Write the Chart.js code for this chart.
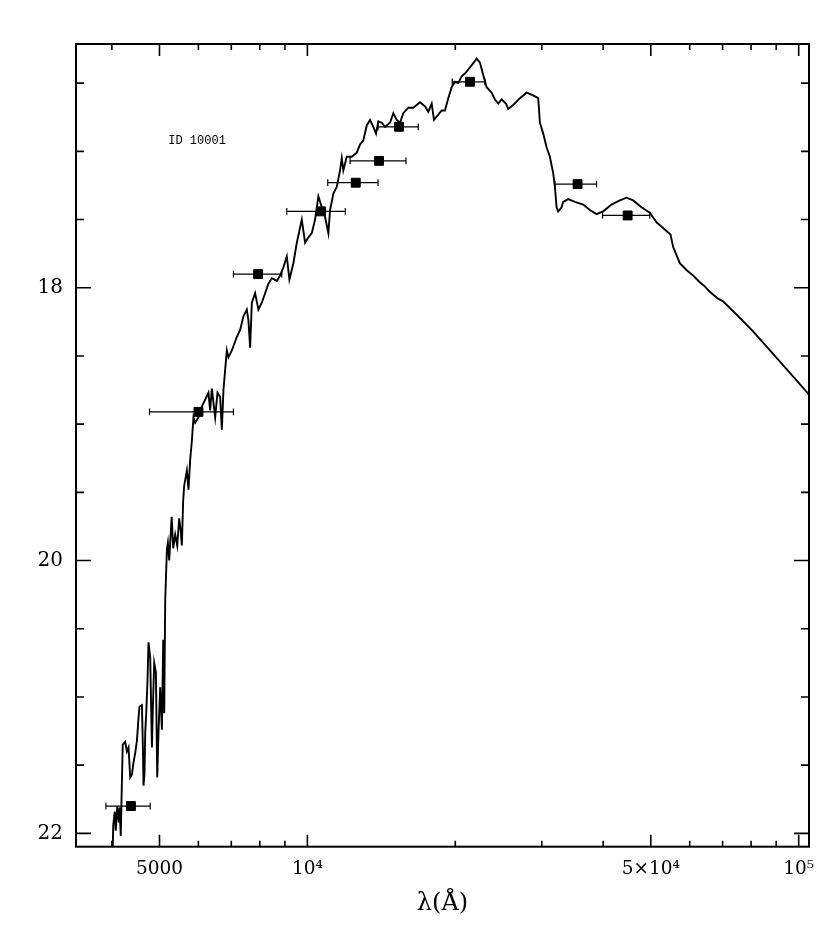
<!DOCTYPE html>
<html>
<head>
<meta charset="utf-8">
<script src="https://cdn.jsdelivr.net/npm/chart.js@4.4.1/dist/chart.umd.min.js"></script>
<style>
  html, body { margin: 0; padding: 0; background: #fff; }
  #wrap { width: 840px; height: 940px; }
</style>
</head>
<body>
<div id="wrap"><canvas id="sed" width="840" height="940"></canvas></div>
<script>
// model spectrum: wavelength (Angstrom) and magnitude
var waveAA = [
  4016, 4026, 4054, 4073, 4102, 4131, 4150, 4170, 4189, 4209,
  4258, 4292, 4325, 4359, 4394, 4427, 4463, 4498, 4519, 4532,
  4553, 4605, 4626, 4639, 4661, 4677, 4699, 4727, 4749, 4787,
  4826, 4848, 4878, 4917, 4947, 4977, 5017, 5057, 5088, 5112,
  5136, 5177, 5201, 5233, 5294, 5332, 5382, 5433, 5484, 5522,
  5553, 5587, 5614, 5685, 5728, 5774, 5820, 5863, 5910, 6002,
  6099, 6194, 6290, 6340, 6391, 6491, 6561, 6644, 6697, 6748,
  6802, 6856, 6908, 7019, 7185, 7297, 7410, 7529, 7586, 7647,
  7708, 7828, 7950, 8077, 8203, 8331, 8464, 8665, 8800, 8937,
  9080, 9192, 9365, 9516, 9741, 9893, 10047, 10208, 10367, 10529,
  10698, 10864, 11033, 11122, 11295, 11476, 11655, 11748, 11836, 12026,
  12311, 12603, 12799, 12998, 13207, 13413, 13622, 13795, 13944, 14168,
  14389, 14730, 14959, 15199, 15436, 15676, 16048, 16428, 16952, 17353,
  17623, 17906, 18100, 18468, 18765, 19057, 19354, 19664, 19971, 20282,
  20607, 20928, 21254, 21595, 22107, 22451, 22801, 23167, 23716, 24085,
  24460, 24853, 25358, 25633, 26240, 27076, 27939, 28816, 29499, 29735,
  30198, 30682, 31160, 31645, 31898, 32153, 32395, 32915, 33163, 33948,
  35030, 36419, 37579, 38777, 39994, 41599, 43248, 44626, 46027, 47874,
  49771, 51358, 52895, 54838, 55509, 56400, 57279, 59104, 60960, 62903,
  64393, 65918, 68531, 70155, 75861, 80736, 85965, 91488, 97367, 105289
];
var magModel = [
  22.11, 21.94, 21.84, 21.98, 21.80, 21.92, 21.81, 22.02, 21.68, 21.35,
  21.33, 21.40, 21.37, 21.59, 21.57, 21.48, 21.41, 21.32, 21.22, 21.15,
  21.07, 21.06, 21.37, 21.65, 21.56, 21.26, 21.12, 20.88, 20.60, 20.71,
  21.37, 21.07, 20.75, 20.82, 21.59, 21.26, 20.93, 21.24, 20.58, 21.12,
  20.29, 19.92, 19.87, 20.00, 19.68, 19.91, 19.81, 19.89, 19.69, 19.78,
  19.89, 19.56, 19.45, 19.34, 19.48, 19.26, 19.12, 18.95, 18.99, 18.95,
  18.87, 18.82, 18.77, 18.90, 18.74, 18.95, 18.77, 18.80, 19.04, 18.75,
  18.60, 18.46, 18.51, 18.46, 18.36, 18.31, 18.21, 18.16, 18.24, 18.44,
  18.11, 18.04, 18.16, 18.11, 18.04, 17.97, 17.93, 17.95, 17.91, 17.85,
  17.77, 17.94, 17.82, 17.67, 17.50, 17.67, 17.63, 17.60, 17.50, 17.33,
  17.41, 17.48, 17.60, 17.43, 17.31, 17.26, 17.14, 17.05, 17.14, 17.04,
  17.04, 17.01, 16.95, 16.92, 16.81, 16.77, 16.82, 16.87, 16.78, 16.79,
  16.82, 16.79, 16.72, 16.77, 16.79, 16.72, 16.68, 16.68, 16.64, 16.67,
  16.71, 16.65, 16.77, 16.73, 16.70, 16.70, 16.61, 16.53, 16.49, 16.50,
  16.45, 16.43, 16.40, 16.37, 16.32, 16.35, 16.44, 16.53, 16.57, 16.62,
  16.65, 16.62, 16.65, 16.69, 16.66, 16.61, 16.57, 16.59, 16.61, 16.79,
  16.87, 16.97, 17.04, 17.16, 17.26, 17.41, 17.44, 17.41, 17.37, 17.35,
  17.37, 17.39, 17.43, 17.46, 17.44, 17.39, 17.36, 17.34, 17.36, 17.41,
  17.45, 17.52, 17.56, 17.61, 17.70, 17.76, 17.82, 17.87, 17.91, 17.96,
  17.99, 18.03, 18.08, 18.10, 18.22, 18.32, 18.43, 18.54, 18.65, 18.79
];

// photometry: filter centre, magnitude, filter extent
var photWave = [4374, 6002, 7938, 10663, 12544, 13990, 15364, 21424, 35476, 44856];
var photMag  = [21.80, 18.91, 17.90, 17.44, 17.23, 17.07, 16.82, 16.49, 17.24, 17.47];
var photLo   = [3890, 4772, 7071, 9080, 11002, 12214, 13925, 19720, 31898, 39882];
var photHi   = [4787, 7071, 8870, 11942, 13925, 15876, 16817, 22983, 38777, 49771];

// axes
var xMajor = [5000, 10000, 50000, 100000];
var xMajorLabels = ['5000', '10\u2074', '5\u00d710\u2074', '10\u2075'];
var xMinor = [4000, 6000, 7000, 8000, 9000, 20000, 30000, 40000, 60000, 70000, 80000, 90000];
var yMajor = [18, 20, 22];
var yMinor = [16.5, 17, 17.5, 18.5, 19, 19.5, 20.5, 21, 21.5];

var idLabel = 'ID 10001';
var idWave = 5210, idMag = 16.92;

var framePlugin = {
  id: 'frameTicks',
  beforeDatasetsDraw: function(chart) {
    // horizontal error bars of the photometry
    var ctx = chart.ctx, x = chart.scales.x, y = chart.scales.y;
    ctx.save();
    ctx.strokeStyle = '#000';
    ctx.lineWidth = 1.2;
    ctx.beginPath();
    for (var i = 0; i < photWave.length; i++) {
      var py = y.getPixelForValue(photMag[i]);
      var x0 = x.getPixelForValue(photLo[i]);
      var x1 = x.getPixelForValue(photHi[i]);
      ctx.moveTo(x0, py); ctx.lineTo(x1, py);
      ctx.moveTo(x0, py - 3.4); ctx.lineTo(x0, py + 3.4);
      ctx.moveTo(x1, py - 3.4); ctx.lineTo(x1, py + 3.4);
    }
    ctx.stroke();
    ctx.restore();
  },
  afterDatasetsDraw: function(chart) {
    var ctx = chart.ctx, a = chart.chartArea, x = chart.scales.x, y = chart.scales.y;
    ctx.save();
    ctx.strokeStyle = '#000';
    ctx.lineWidth = 1.6;
    ctx.beginPath();
    function xt(v, len) {
      var px = x.getPixelForValue(v);
      ctx.moveTo(px, a.bottom); ctx.lineTo(px, a.bottom - len);
      ctx.moveTo(px, a.top); ctx.lineTo(px, a.top + len);
    }
    function yt(v, len) {
      var py = y.getPixelForValue(v);
      ctx.moveTo(a.left, py); ctx.lineTo(a.left + len, py);
      ctx.moveTo(a.right, py); ctx.lineTo(a.right - len, py);
    }
    xMajor.forEach(function(v) { xt(v, 12); });
    xMinor.forEach(function(v) { xt(v, 6); });
    yMajor.forEach(function(v) { yt(v, 15); });
    yMinor.forEach(function(v) { yt(v, 8); });
    ctx.stroke();
    ctx.lineWidth = 2;
    ctx.strokeRect(a.left, a.top, a.right - a.left, a.bottom - a.top);

    ctx.fillStyle = '#000';
    ctx.font = '12px "Liberation Mono", "DejaVu Sans Mono", monospace';
    ctx.textBaseline = 'middle';
    ctx.textAlign = 'left';
    ctx.fillText(idLabel, x.getPixelForValue(idWave), y.getPixelForValue(idMag));
    ctx.restore();
  }
};

var ctx = document.getElementById('sed').getContext('2d');
var chart = new Chart(ctx, {
  type: 'line',
  data: {
    datasets: [{
      label: 'model',
      data: waveAA.map(function(w, i) { return {x: w, y: magModel[i]}; }),
      borderColor: '#000',
      borderWidth: 1.9,
      pointRadius: 0,
      tension: 0,
      fill: false
    }, {
      type: 'scatter',
      label: 'photometry',
      data: photWave.map(function(w, i) { return {x: w, y: photMag[i]}; }),
      pointStyle: 'rect',
      pointRadius: 6.3,
      backgroundColor: '#000',
      borderColor: '#000',
      borderWidth: 1
    }]
  },
  options: {
    responsive: false,
    animation: false,
    layout: { padding: { top: 44, right: 31, bottom: 0, left: 0 } },
    plugins: {
      legend: { display: false },
      tooltip: { enabled: false }
    },
    scales: {
      x: {
        type: 'logarithmic',
        min: 3381,
        max: 104950,
        grid: { display: false, drawTicks: false },
        border: { display: false },
        afterBuildTicks: function(s) { s.ticks = xMajor.map(function(v) { return {value: v}; }); },
        afterFit: function(s) { s.height = 93.3; },
        ticks: {
          autoSkip: false,
          maxRotation: 0,
          padding: 11,
          color: '#000',
          font: { family: '"DejaVu Serif", serif', size: 18.5 },
          callback: function(v, i) { return xMajorLabels[i]; }
        },
        title: {
          display: true,
          text: '\u03bb(\u00c5)',
          color: '#000',
          font: { family: '"DejaVu Serif", serif', size: 24 },
          padding: { top: 0, bottom: 22 }
        }
      },
      y: {
        type: 'linear',
        reverse: true,
        min: 16.213,
        max: 22.098,
        grid: { display: false, drawTicks: false },
        border: { display: false },
        afterBuildTicks: function(s) { s.ticks = yMajor.map(function(v) { return {value: v}; }); },
        afterFit: function(s) { s.width = 76; },
        ticks: {
          padding: 13,
          color: '#000',
          font: { family: '"DejaVu Serif", serif', size: 20 },
          callback: function(v) { return String(v); }
        }
      }
    }
  },
  plugins: [framePlugin]
});
</script>
</body>
</html>
